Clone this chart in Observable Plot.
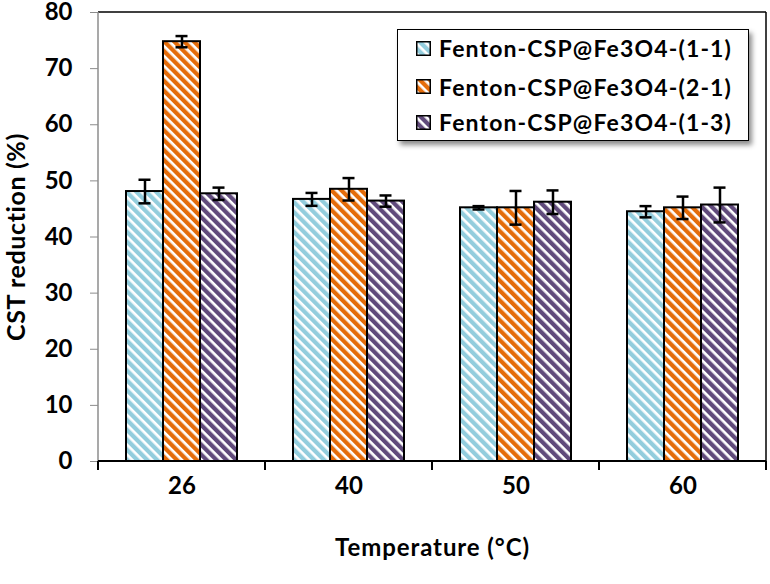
<!DOCTYPE html>
<html><head><meta charset="utf-8">
<script src="https://cdn.jsdelivr.net/npm/d3@7"></script>
<script src="https://cdn.jsdelivr.net/npm/@observablehq/plot@0.6"></script>
<style>
body{margin:0;background:#fff;}
#wrap{position:relative;width:770px;height:584px;font-family:Lato,"Open Sans",sans-serif;}
#wrap svg text{font-weight:bold;}
#wrap g[aria-label="y-axis tick label"] text, #wrap g[aria-label="fx-axis tick label"] text{font-size:24px;}
#wrap g[aria-label="y-axis label"] text{font-size:25px;letter-spacing:0.6px;}
#wrap g[aria-label="fx-axis label"] text{font-size:24px;letter-spacing:0.9px;}
#legend{position:absolute;left:397px;top:29px;width:350px;height:110px;border:1.5px solid #000;background:#fff;box-shadow:3px 4px 5px rgba(0,0,0,0.45);}
.row{position:absolute;left:18px;height:20px;display:flex;align-items:center;font-weight:bold;font-size:23px;letter-spacing:1.15px;white-space:nowrap;}
.row svg{margin-right:8px;}
</style></head><body><div id="wrap"></div>
<script>
const temps = ["26", "40", "50", "60"];
const series = ["Fenton-CSP@Fe3O4-(1-1)", "Fenton-CSP@Fe3O4-(2-1)", "Fenton-CSP@Fe3O4-(1-3)"];
const values11 = [48.1, 46.7, 45.2, 44.5];
const values21 = [74.8, 48.5, 45.2, 45.2];
const values13 = [47.7, 46.4, 46.2, 45.7];
const errors11 = [2.1, 1.15, 0.3, 1.0];
const errors21 = [1.0, 2.0, 3.0, 2.0];
const errors13 = [1.1, 1.0, 2.1, 3.1];
const yTicks = [0, 10, 20, 30, 40, 50, 60, 70, 80];
const colors = ["#93CDDD", "#E46C0A", "#604A7B"];

const values = [values11, values21, values13];
const errors = [errors11, errors21, errors13];
const rows = [];
temps.forEach((t, i) => series.forEach((s, j) => rows.push({temp: t, series: s, value: values[j][i], err: errors[j][i]})));

const font = "Lato, 'Open Sans', sans-serif";
const chart = Plot.plot({
  width: 770, height: 584,
  marginLeft: 97, marginRight: 3, marginTop: 12, marginBottom: 123,
  style: {fontFamily: font, background: "white", color: "black"},
  fx: {domain: temps, padding: 0, label: null},
  x: {domain: series, paddingInner: 0, paddingOuter: 0.74, axis: null},
  y: {domain: [0, 80]},
  color: {domain: series, range: series.map((s, i) => `url(#hatch${i})`)},
  marks: [
    Plot.barY(rows, {fx: "temp", x: "series", y: "value", fill: "series", stroke: "black", strokeWidth: 2}),
    Plot.ruleX(rows, {fx: "temp", x: "series", y1: d => d.value - d.err, y2: d => d.value + d.err, stroke: "black", strokeWidth: 2.5}),
    Plot.tickY(rows, {fx: "temp", x: "series", y: d => d.value - d.err, insetLeft: 12.5, insetRight: 12.5, stroke: "black", strokeWidth: 2.5}),
    Plot.tickY(rows, {fx: "temp", x: "series", y: d => d.value + d.err, insetLeft: 12.5, insetRight: 12.5, stroke: "black", strokeWidth: 2.5}),
    Plot.axisY({ticks: yTicks, tickSize: 8, tickPadding: 18, stroke: "#8c8c8c", fill: "black", fontSize: 24, fontWeight: "bold",
      label: "CST reduction (%)", labelArrow: "none", labelAnchor: "center", labelOffset: 91}),
    Plot.axisFx({anchor: "bottom", tickSize: 0, tickPadding: 15, fill: "black", fontSize: 24, fontWeight: "bold",
      label: "Temperature (°C)", labelArrow: "none", labelAnchor: "center", labelOffset: 94})
  ]
});

// hatch patterns
const svg = d3.select(chart);
const defs = svg.insert("defs", ":first-child");
colors.forEach((c, i) => {
  const p = defs.append("pattern").attr("id", "hatch" + i).attr("patternUnits", "userSpaceOnUse")
    .attr("width", 7).attr("height", 7).attr("patternTransform", "rotate(-45)");
  p.append("rect").attr("width", 7).attr("height", 7).attr("fill", "white");
  p.append("rect").attr("width", 4.3).attr("height", 7).attr("fill", c);
});

// frame, baseline and category boundary ticks from the plot's scales
const fxS = chart.scale("fx"), yS = chart.scale("y");
const xa = fxS.apply(temps[0]), xb = fxS.apply(temps[temps.length - 1]) + fxS.bandwidth;
const y0 = yS.apply(0), yTop = yS.apply(80);
const deco = svg.append("g");
deco.append("line").attr("x1", xa).attr("x2", xb).attr("y1", yTop).attr("y2", yTop).attr("stroke", "black").attr("stroke-width", 1.5);
deco.append("line").attr("x1", xb).attr("x2", xb).attr("y1", yTop).attr("y2", y0).attr("stroke", "black").attr("stroke-width", 1.5);
deco.append("line").attr("x1", xa).attr("x2", xa).attr("y1", yTop).attr("y2", y0).attr("stroke", "#8c8c8c").attr("stroke-width", 1.5);
deco.append("line").attr("x1", xa).attr("x2", xb).attr("y1", y0).attr("y2", y0).attr("stroke", "black").attr("stroke-width", 2);
[...temps.map(t => fxS.apply(t)), xb].forEach(x => {
  deco.append("line").attr("x1", x).attr("x2", x).attr("y1", y0).attr("y2", y0 + 9).attr("stroke", "black").attr("stroke-width", 2);
});

const wrap = document.getElementById("wrap");
wrap.appendChild(chart);

// legend
const legend = document.createElement("div");
legend.id = "legend";
const rowTops = [8, 46.5, 82];
series.forEach((s, i) => {
  const r = document.createElement("div");
  r.className = "row";
  r.style.top = rowTops[i] + "px";
  r.innerHTML = `<svg width="15" height="15"><rect x="0.75" y="0.75" width="13.5" height="13.5" fill="url(#hatch${i})" stroke="black" stroke-width="1.5"/></svg><span></span>`;
  r.querySelector("span").textContent = s;
  legend.appendChild(r);
});
wrap.appendChild(legend);
</script>
</body></html>
